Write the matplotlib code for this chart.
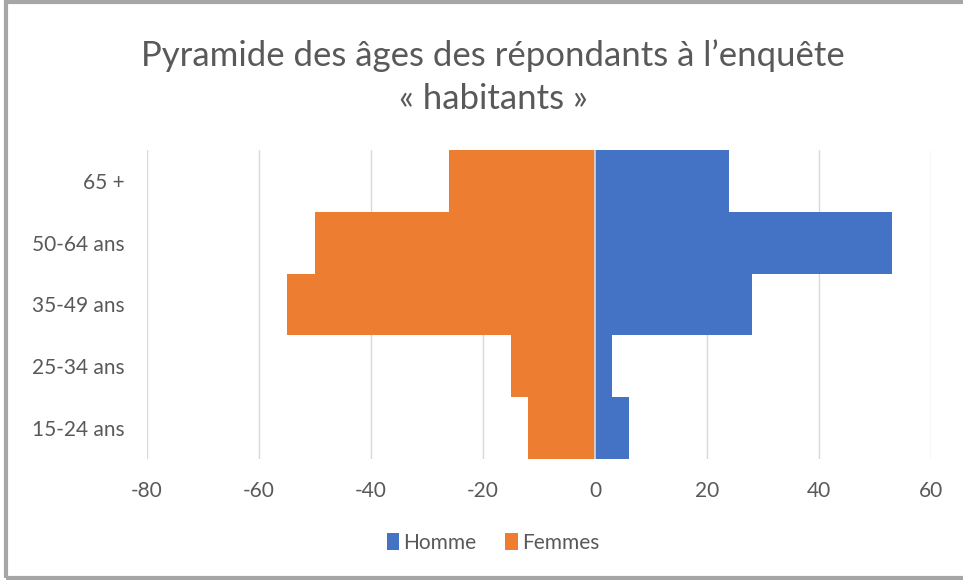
import matplotlib.pyplot as plt
from matplotlib.patches import Rectangle

# Data
ages = ["15-24 ans", "25-34 ans", "35-49 ans", "50-64 ans", "65 +"]
homme = [6, 3, 28, 53, 24]
femmes = [-12, -15, -55, -50, -26]
xticks = [-80, -60, -40, -20, 0, 20, 40, 60]

plt.rcParams['font.family'] = ['Lato', 'DejaVu Sans']
plt.rcParams['axes.unicode_minus'] = False
grey_txt = "#595959"

fig = plt.figure(figsize=(9.63, 5.8), dpi=100)
ax = fig.add_axes([147/963, 1 - 459/580, (931-147)/963, (459-150)/580])

ax.barh(range(len(ages)), homme, height=1.0, color="#4472C4", label="Homme", zorder=2)
ax.barh(range(len(ages)), femmes, height=1.0, color="#ED7D31", label="Femmes", zorder=2)
ax.axvline(0, color="#D9D9D9", lw=1.2, zorder=3)

ax.set_xlim(-80, 60)
ax.set_ylim(-0.5, len(ages) - 0.5)
ax.set_xticks(xticks)
ax.set_yticks(range(len(ages)))
ax.set_yticklabels(ages)
ax.grid(axis="x", color="#D9D9D9", lw=1, zorder=0)
ax.tick_params(length=0, labelsize=15, colors=grey_txt)
ax.tick_params(axis="x", pad=16)
ax.tick_params(axis="y", pad=16)
for s in ax.spines.values():
    s.set_visible(False)

fig.text(493/963, 1 - 77/580, "Pyramide des âges des répondants à l’enquête\n« habitants »",
         ha="center", va="center", fontsize=25, color=grey_txt, linespacing=1.45)

fig.legend(loc="center", bbox_to_anchor=(493/963, 1 - 543/580), ncol=2, frameon=False,
           fontsize=15, labelcolor=grey_txt, handlelength=0.6, handleheight=0.9,
           handletextpad=0.2, columnspacing=1.4)

# outer frame
fig.patches.append(Rectangle((6/963, 1 - 578/580), 1.0, (578-2)/580, transform=fig.transFigure,
                             fill=False, edgecolor="#A6A6A6", lw=3))

fig.savefig("out.png", dpi=100)
